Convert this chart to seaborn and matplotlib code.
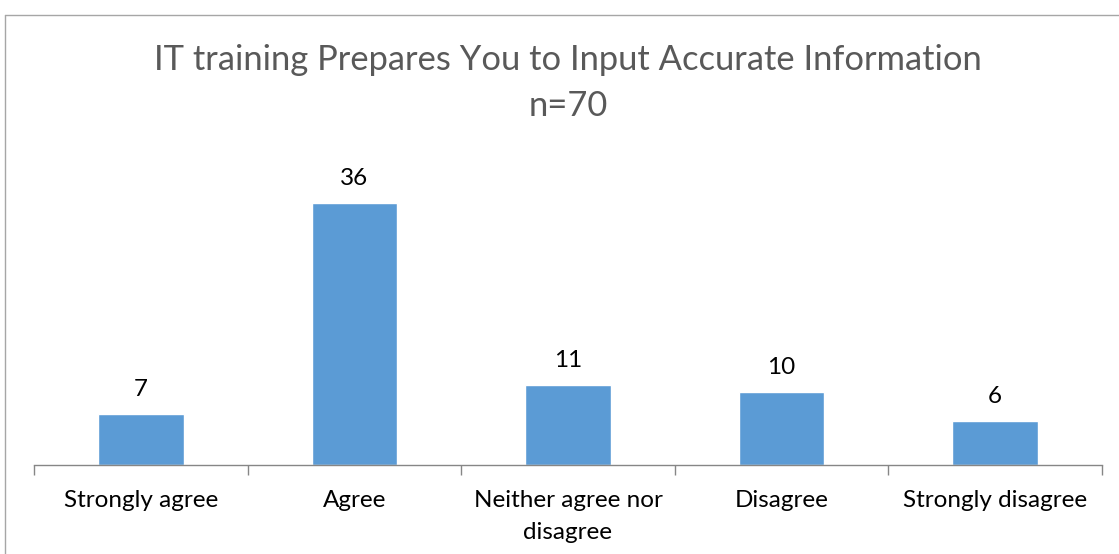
import matplotlib
matplotlib.use("Agg")
import matplotlib.pyplot as plt
import seaborn as sns
import pandas as pd
from matplotlib.lines import Line2D

# survey answers
categories = ["Strongly agree", "Agree", "Neither agree nor\ndisagree", "Disagree", "Strongly disagree"]
counts = [7, 36, 11, 10, 6]
title_text = "IT training Prepares You to Input Accurate Information\nn=70"

df = pd.DataFrame({"answer": categories, "count": counts})

sns.set_theme(style="white")
plt.rcParams["font.family"] = ["Lato", "DejaVu Sans"]

W, H = 1119, 554
fig = plt.figure(figsize=(W / 100, H / 100), dpi=100)
ax = fig.add_axes([34 / W, (H - 465) / H, (1102 - 34) / W, (465 - 174) / H])

sns.barplot(data=df, x="answer", y="count", color="#5B9BD5", width=0.4,
            saturation=1, ax=ax)

# value labels above bars
for c in ax.containers:
    ax.bar_label(c, padding=10, fontsize=17.5, color="#000000")

ax.set_ylim(0, 40)
ax.set_xlim(-0.5, len(categories) - 0.5)
ax.set_yticks([])
ax.set_xlabel("")
ax.set_ylabel("")

# category labels centred, tick marks on the boundaries
ax.set_xticks(range(len(categories)))
ax.set_xticklabels(categories, fontsize=17.5, color="#000000", linespacing=1.65)
ax.tick_params(axis="x", which="major", length=0, pad=18)
ax.set_xticks([i - 0.5 for i in range(len(categories) + 1)], minor=True)
ax.tick_params(axis="x", which="minor", bottom=True, length=7, width=1, color="#868686")

for s in ["left", "right", "top"]:
    ax.spines[s].set_visible(False)
ax.spines["bottom"].set_color("#868686")
ax.spines["bottom"].set_linewidth(1)

fig.text(568 / W, 1 - 83 / H, title_text, ha="center", va="center",
         fontsize=24.8, color="#595959", linespacing=1.5)

# chart area border (cropped at right and bottom)
bx, by = 4.5 / W, 1 - 14.5 / H
fig.add_artist(Line2D([bx, bx], [0, by], transform=fig.transFigure, color="#A6A6A6", lw=1))
fig.add_artist(Line2D([bx, 1], [by, by], transform=fig.transFigure, color="#A6A6A6", lw=1))

fig.savefig("out.png", dpi=100)
